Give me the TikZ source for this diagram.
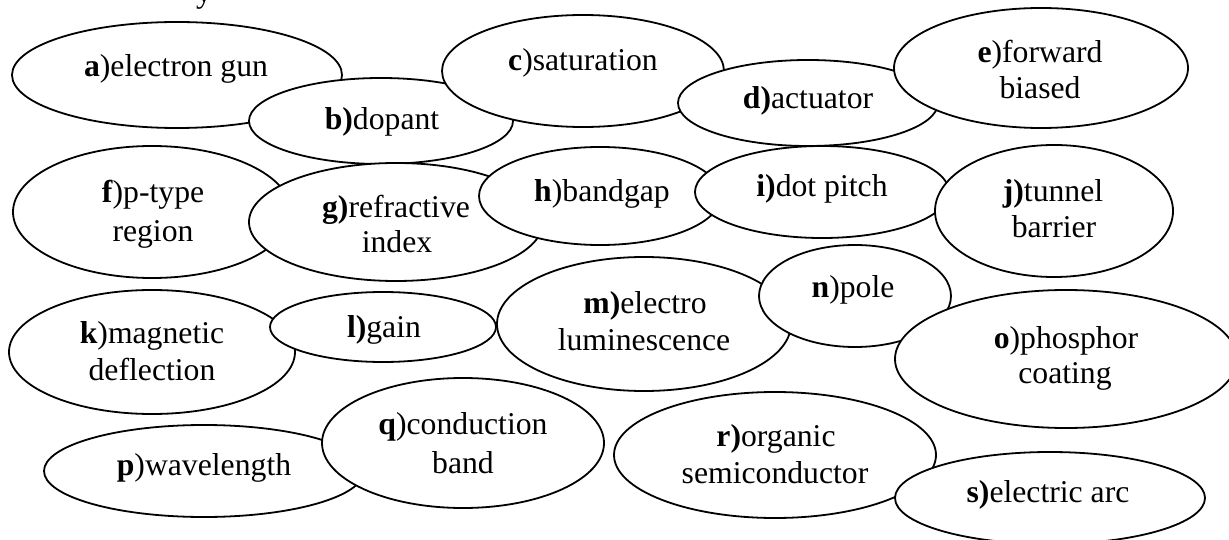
\documentclass[tikz,border=0pt]{standalone}
\usepackage{fontspec}
\setmainfont{Liberation Serif}
\usetikzlibrary{shapes.geometric}
\begin{document}
\begin{tikzpicture}[x=1pt,y=-1pt,
  oval/.style={ellipse, draw=black, fill=white, line width=1.8pt, inner sep=0pt},
  lbl/.style={anchor=base, inner sep=0pt, font=\fontsize{31.7}{36}\selectfont}]
\useasboundingbox (0,0) rectangle (1229,540);
\clip (0,0) rectangle (1229,540);
\node[lbl] (ytop) at (204,3) {y};
% row 1
\node[oval, minimum width=330pt, minimum height=106pt] (a) at (177,75) {};
\node[lbl] (at) at (176,77) {\textbf{a})electron gun};
\node[oval, minimum width=264pt, minimum height=86pt] (b) at (381,121) {};
\node[lbl] (bt) at (382,130) {\textbf{b)}dopant};
\node[oval, minimum width=282pt, minimum height=112pt] (c) at (583,71) {};
\node[lbl] (ct) at (583,71) {\textbf{c})saturation};
\node[oval, minimum width=260pt, minimum height=86pt] (d) at (808,103) {};
\node[lbl] (dt) at (808,109) {\textbf{d)}actuator};
\node[oval, minimum width=294pt, minimum height=120pt] (e) at (1041,68) {};
\node[lbl] (et1) at (1040,63) {\textbf{e})forward};
\node[lbl] (et2) at (1040,99) {biased};
% row 2
\node[oval, minimum width=278pt, minimum height=132pt] (f) at (152,212) {};
\node[lbl] (ft1) at (153,203) {\textbf{f})p-type};
\node[lbl] (ft2) at (153,241) {region};
\node[oval, minimum width=294pt, minimum height=118pt] (g) at (396,222) {};
\node[lbl] (gt1) at (396,218) {\textbf{g)}refractive};
\node[lbl] (gt2) at (397,252) {index};
\node[oval, minimum width=242pt, minimum height=98pt] (h) at (600,196) {};
\node[lbl] (ht) at (602,202) {\textbf{h})bandgap};
\node[oval, minimum width=254pt, minimum height=92pt] (i) at (822,192) {};
\node[lbl] (it) at (822,197) {\textbf{i)}dot pitch};
\node[oval, minimum width=238pt, minimum height=132pt] (j) at (1054,211) {};
\node[lbl] (jt1) at (1053,202) {\textbf{j)}tunnel};
\node[lbl] (jt2) at (1054,238) {barrier};
% row 3
\node[oval, minimum width=286pt, minimum height=124pt] (k) at (152,352) {};
\node[lbl] (kt1) at (152,343) {\textbf{k})magnetic};
\node[lbl] (kt2) at (152,380) {deflection};
\node[oval, minimum width=226pt, minimum height=70pt] (l) at (383,327) {};
\node[lbl] (lt) at (384,337) {\textbf{l)}gain};
\node[oval, minimum width=294pt, minimum height=134pt] (m) at (644,324) {};
\node[lbl] (mt1) at (645,313) {\textbf{m)}electro};
\node[lbl] (mt2) at (644,350) {luminescence};
\node[oval, minimum width=192pt, minimum height=102pt] (n) at (855,296) {};
\node[lbl] (nt) at (853,298) {\textbf{n})pole};
\node[oval, minimum width=342pt, minimum height=138pt] (o) at (1066,359) {};
\node[lbl] (ot1) at (1066,348) {\textbf{o})phosphor};
\node[lbl] (ot2) at (1065,383) {coating};
% row 4
\node[oval, minimum width=320pt, minimum height=92pt] (p) at (204,471) {};
\node[lbl] (pt) at (204,475) {\textbf{p})wavelength};
\node[oval, minimum width=282pt, minimum height=130pt] (q) at (463,443) {};
\node[lbl] (qt1) at (463,434) {\textbf{q})conduction};
\node[lbl] (qt2) at (463,473) {band};
\node[oval, minimum width=322pt, minimum height=126pt] (r) at (775,455) {};
\node[lbl] (rt1) at (776,446) {\textbf{r)}organic};
\node[lbl] (rt2) at (775,483) {semiconductor};
\node[oval, minimum width=310pt, minimum height=92pt] (s) at (1050,498) {};
\node[lbl] (st) at (1048,502) {\textbf{s)}electric arc};
\end{tikzpicture}
\end{document}
